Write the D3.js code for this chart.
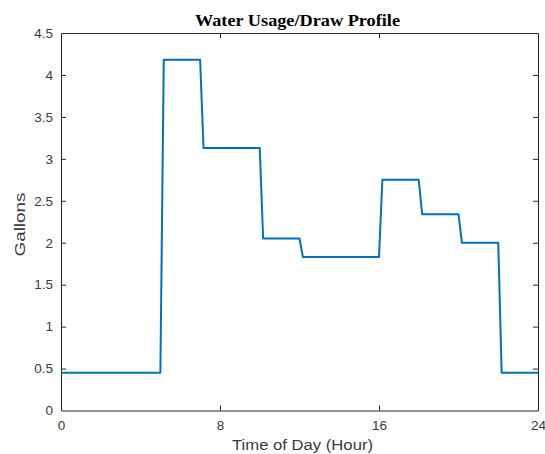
<!DOCTYPE html>
<html>
<head>
<meta charset="utf-8">
<script src="https://cdn.jsdelivr.net/npm/d3@7"></script>
<style>
  html, body { margin: 0; padding: 0; background: #fff; }
  svg { display: block; }
</style>
</head>
<body>
<svg id="chart" width="545" height="454"></svg>
<script>
// Breakpoints of the hourly draw profile (hour of day, gallons)
const hours   = [0, 5, 5.17, 7, 7.17, 10, 10.17, 12, 12.17, 16, 16.17, 18, 18.17, 20, 20.17, 22, 22.17, 24];
const gallons = [0.45, 0.45, 4.18, 4.18, 3.13, 3.13, 2.05, 2.05, 1.83, 1.83, 2.75, 2.75, 2.34, 2.34, 2.0, 2.0, 0.45, 0.45];

const xTicks = [0, 8, 16, 24];
const yTicks = [0, 0.5, 1, 1.5, 2, 2.5, 3, 3.5, 4, 4.5];
const yTickLabels = ["0", "0.5", "1", "1.5", "2", "2.5", "3", "3.5", "4", "4.5"];

const titleText = "Water Usage/Draw Profile";
const xLabel = "Time of Day (Hour)";
const yLabel = "Gallons";

const svg = d3.select("#chart");
const plot = { left: 61, right: 538, top: 33, bottom: 410.5 };
const axisColor = "#262626";
const labelColor = "#3a3a3a";
const tickLen = 5;

const x = d3.scaleLinear().domain([0, 24]).range([plot.left, plot.right]);
const y = d3.scaleLinear().domain([0, 4.5]).range([plot.bottom, plot.top]);

const points = hours.map((h, i) => [h, gallons[i]]);

// Axes on all four sides, ticks pointing inward
const fontFam = "Arial, 'Liberation Sans', Helvetica, sans-serif";

const gx = svg.append("g").attr("transform", `translate(0,${plot.bottom})`)
  .call(d3.axisBottom(x).tickValues(xTicks).tickSizeInner(-tickLen).tickSizeOuter(0).tickFormat(d3.format("d")));
const gxTop = svg.append("g").attr("transform", `translate(0,${plot.top})`)
  .call(d3.axisTop(x).tickValues(xTicks).tickSizeInner(-tickLen).tickSizeOuter(0).tickFormat(""));
const gy = svg.append("g").attr("transform", `translate(${plot.left},0)`)
  .call(d3.axisLeft(y).tickValues(yTicks).tickSizeInner(-tickLen).tickSizeOuter(0).tickPadding(8)
    .tickFormat((d, i) => yTickLabels[i]));
const gyRight = svg.append("g").attr("transform", `translate(${plot.right},0)`)
  .call(d3.axisRight(y).tickValues(yTicks).tickSizeInner(-tickLen).tickSizeOuter(0).tickFormat(""));

[gx, gxTop, gy, gyRight].forEach(g => {
  g.select(".domain").attr("stroke", axisColor).attr("stroke-width", 1);
  g.selectAll(".tick line").attr("stroke", axisColor).attr("stroke-width", 1);
  g.selectAll(".tick text").attr("fill", labelColor)
    .style("font-family", fontFam).style("font-size", "13.5px");
});
// drop the end ticks which coincide with the box edges
gx.selectAll(".tick line").filter(d => d === 0 || d === 24).remove();
gxTop.selectAll(".tick line").filter(d => d === 0 || d === 24).remove();
gy.selectAll(".tick line").filter(d => d === 0 || d === 4.5).remove();
gyRight.selectAll(".tick line").filter(d => d === 0 || d === 4.5).remove();
gx.selectAll(".tick text").attr("dy", "0.71em").attr("y", 10);

// Profile line
const line = d3.line().x(d => x(d[0])).y(d => y(d[1]));
svg.append("path")
  .datum(points)
  .attr("fill", "none")
  .attr("stroke", "#0072BD")
  .attr("stroke-width", 2)
  .attr("stroke-linejoin", "round")
  .attr("d", line);

// Title
svg.append("text")
  .attr("x", 297.5).attr("y", 26)
  .attr("text-anchor", "middle")
  .attr("textLength", 205)
  .attr("lengthAdjust", "spacingAndGlyphs")
  .style("font-family", "'Liberation Serif', 'DejaVu Serif', serif")
  .style("font-weight", "bold")
  .style("font-size", "17px")
  .attr("fill", "#000")
  .text(titleText);

// Axis labels
svg.append("text")
  .attr("x", 302.5).attr("y", 449.5)
  .attr("text-anchor", "middle")
  .attr("textLength", 141)
  .attr("lengthAdjust", "spacingAndGlyphs")
  .style("font-family", fontFam).style("font-size", "15.5px")
  .attr("fill", labelColor)
  .text(xLabel);

svg.append("text")
  .attr("transform", `translate(24.5,224.5) rotate(-90)`)
  .attr("text-anchor", "middle")
  .attr("textLength", 64)
  .attr("lengthAdjust", "spacingAndGlyphs")
  .style("font-family", fontFam).style("font-size", "15.5px")
  .attr("fill", labelColor)
  .text(yLabel);
</script>
</body>
</html>
